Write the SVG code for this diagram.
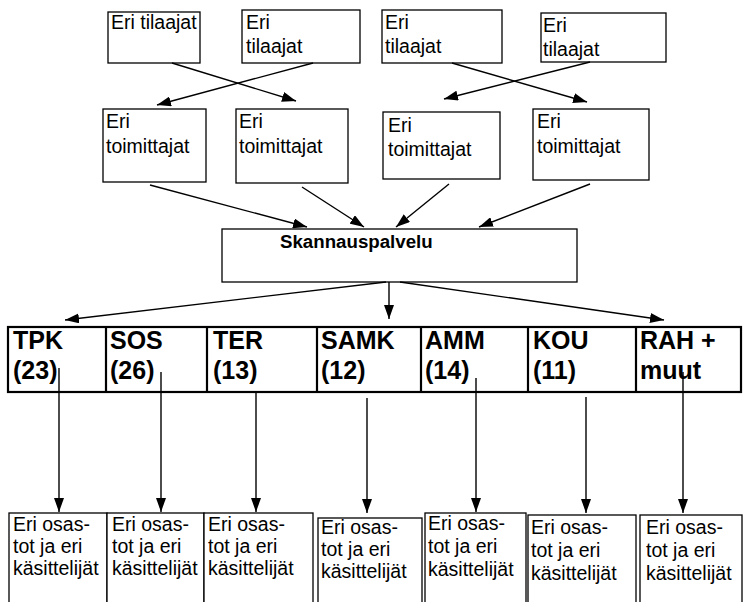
<svg xmlns="http://www.w3.org/2000/svg" width="743" height="602" viewBox="0 0 743 602">
  <style>
    .box { fill: #fff; stroke: #000; stroke-width: 1.3; }
    .row { fill: #fff; stroke: #000; stroke-width: 2.2; }
    .t { font-family: "Liberation Sans", Arial, sans-serif; font-size: 19.5px; fill: #000; }
    .b { font-family: "Liberation Sans", Arial, sans-serif; font-weight: bold; fill: #000; }
    .lbl { font-size: 25px; }
    .hdr { font-size: 18.7px; }
    .c { fill: none; stroke: #000; stroke-width: 1.4; marker-end: url(#arrow); }
  </style>
  <defs>
    <marker id="arrow" viewBox="0 0 14 10" refX="14" refY="5" markerWidth="14" markerHeight="10" markerUnits="userSpaceOnUse" orient="auto">
      <path d="M0,0 L14,5 L0,10 z" fill="#000"/>
    </marker>
  </defs>

  <!-- customers -->
  <g id="tilaajat-1"><rect class="box" x="108" y="12" width="92" height="51"/><text class="t" x="111" y="29">Eri tilaajat</text></g>
  <g id="tilaajat-2"><rect class="box" x="242" y="10" width="118" height="53"/><text class="t" x="246" y="29">Eri</text><text class="t" x="246" y="53">tilaajat</text></g>
  <g id="tilaajat-3"><rect class="box" x="382" y="10" width="120" height="53"/><text class="t" x="385" y="29">Eri</text><text class="t" x="385" y="53">tilaajat</text></g>
  <g id="tilaajat-4"><rect class="box" x="541" y="13" width="125" height="49"/><text class="t" x="543" y="32">Eri</text><text class="t" x="543" y="56">tilaajat</text></g>

  <!-- suppliers -->
  <g id="toimittajat-1"><rect class="box" x="103" y="109" width="103" height="73"/><text class="t" x="106" y="128">Eri</text><text class="t" x="106" y="153">toimittajat</text></g>
  <g id="toimittajat-2"><rect class="box" x="236" y="109" width="112" height="74"/><text class="t" x="239" y="128">Eri</text><text class="t" x="239" y="153">toimittajat</text></g>
  <g id="toimittajat-3"><rect class="box" x="383" y="112" width="117" height="67"/><text class="t" x="388" y="132">Eri</text><text class="t" x="388" y="156">toimittajat</text></g>
  <g id="toimittajat-4"><rect class="box" x="533" y="109" width="116" height="71"/><text class="t" x="537" y="128">Eri</text><text class="t" x="537" y="153">toimittajat</text></g>

  <!-- scanning service -->
  <g id="skannauspalvelu"><rect class="box" x="222" y="229" width="355" height="53"/><text class="b hdr" x="280" y="248">Skannauspalvelu</text></g>

  <!-- units row -->
  <g id="yksikot">
    <rect class="row" x="8" y="327" width="733" height="65"/>
    <path d="M106,327V392M207,327V392M317,327V392M421,327V392M528,327V392M636,327V392" stroke="#000" stroke-width="2.2"/>
  </g>
  <g id="tpk"><text class="b lbl" x="13" y="349">TPK</text><text class="b lbl" x="13" y="379">(23)</text></g>
  <g id="sos"><text class="b lbl" x="110" y="349">SOS</text><text class="b lbl" x="110" y="379">(26)</text></g>
  <g id="ter"><text class="b lbl" x="213" y="349">TER</text><text class="b lbl" x="213" y="379">(13)</text></g>
  <g id="samk"><text class="b lbl" x="321" y="349">SAMK</text><text class="b lbl" x="321" y="379">(12)</text></g>
  <g id="amm"><text class="b lbl" x="425" y="349">AMM</text><text class="b lbl" x="425" y="379">(14)</text></g>
  <g id="kou"><text class="b lbl" x="533" y="349">KOU</text><text class="b lbl" x="533" y="379">(11)</text></g>
  <g id="rah"><text class="b lbl" x="640" y="349">RAH +</text><text class="b lbl" x="640" y="379">muut</text></g>

  <!-- departments -->
  <g id="osastot-1"><rect class="box" x="9" y="513" width="98" height="100"/><text class="t" x="13" y="531">Eri osas-</text><text class="t" x="13" y="553">tot ja eri</text><text class="t" x="13" y="575">käsittelijät</text></g>
  <g id="osastot-2"><rect class="box" x="107" y="513" width="97" height="100"/><text class="t" x="112" y="531">Eri osas-</text><text class="t" x="112" y="553">tot ja eri</text><text class="t" x="112" y="575">käsittelijät</text></g>
  <g id="osastot-3"><rect class="box" x="204" y="513" width="109" height="100"/><text class="t" x="208" y="531">Eri osas-</text><text class="t" x="208" y="553">tot ja eri</text><text class="t" x="208" y="575">käsittelijät</text></g>
  <g id="osastot-4"><rect class="box" x="318" y="518" width="104" height="100"/><text class="t" x="321" y="534">Eri osas-</text><text class="t" x="321" y="556">tot ja eri</text><text class="t" x="321" y="578">käsittelijät</text></g>
  <g id="osastot-5"><rect class="box" x="425" y="513" width="101" height="100"/><text class="t" x="428" y="530">Eri osas-</text><text class="t" x="428" y="553">tot ja eri</text><text class="t" x="428" y="576">käsittelijät</text></g>
  <g id="osastot-6"><rect class="box" x="528" y="515" width="108" height="100"/><text class="t" x="531" y="534">Eri osas-</text><text class="t" x="531" y="557">tot ja eri</text><text class="t" x="531" y="580">käsittelijät</text></g>
  <g id="osastot-7"><rect class="box" x="640" y="515" width="102" height="100"/><text class="t" x="646" y="534">Eri osas-</text><text class="t" x="646" y="557">tot ja eri</text><text class="t" x="646" y="580">käsittelijät</text></g>

  <!-- connectors -->
  <g id="connectors">
    <path class="c" d="M172,63L296,101"/>
    <path class="c" d="M313,63L157,105"/>
    <path class="c" d="M452,63L587,102"/>
    <path class="c" d="M590,62L444,99"/>
    <path class="c" d="M150,185L307,227"/>
    <path class="c" d="M302,187L364,227"/>
    <path class="c" d="M449,184L396,227"/>
    <path class="c" d="M590,184L479,227"/>
    <path class="c" d="M386,282L65,320"/>
    <path class="c" d="M389,282L389,319"/>
    <path class="c" d="M400,282L664,320"/>
    <path class="c" d="M59,368L59,512"/>
    <path class="c" d="M161,372L161,512"/>
    <path class="c" d="M256,393L256,512"/>
    <path class="c" d="M367,398L367,513"/>
    <path class="c" d="M476,378L476,512"/>
    <path class="c" d="M586,397L586,513"/>
    <path class="c" d="M683,372L683,513"/>
  </g>
</svg>
